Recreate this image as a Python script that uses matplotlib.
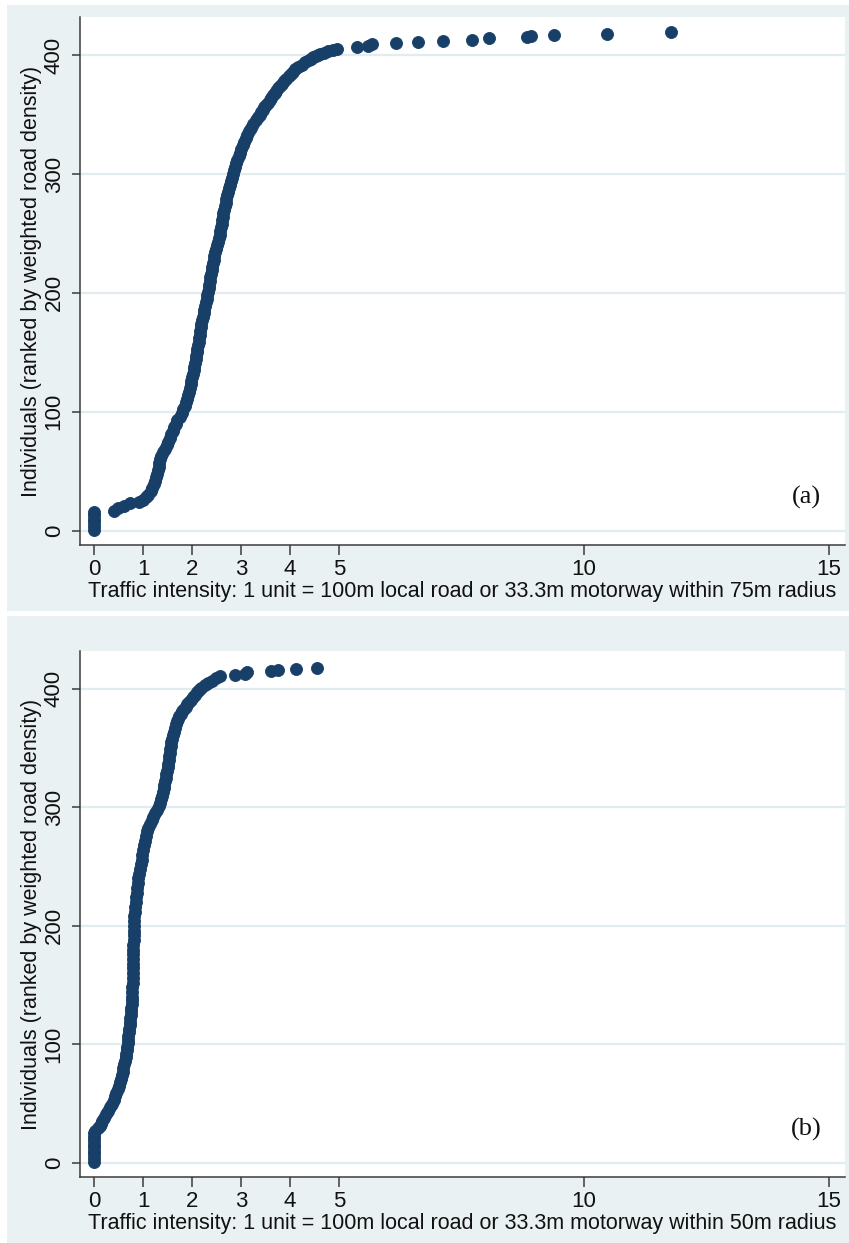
import matplotlib.pyplot as plt
from matplotlib.patches import Rectangle

# panel (a): 75m radius -- rank of individual vs traffic intensity
rank_a = [1, 4, 7, 10, 13, 16, 17, 19, 21, 23, 24, 26, 28, 30, 33, 36, 39, 42, 45, 48,
          51, 54, 57, 60, 63, 66, 69, 72, 75, 78, 81, 84, 87, 90, 93, 96, 99, 102, 105, 108,
          111, 114, 117, 120, 123, 126, 129, 132, 135, 138, 141, 144, 147, 150, 153, 156, 159, 162, 165, 168,
          171, 174, 177, 180, 183, 186, 189, 192, 195, 198, 201, 204, 207, 210, 213, 216, 219, 222, 225, 228,
          231, 234, 237, 240, 243, 246, 249, 252, 255, 258, 261, 264, 267, 270, 273, 276, 279, 282, 285, 288,
          291, 294, 297, 300, 303, 306, 309, 312, 315, 318, 321, 324, 327, 330, 333, 336, 339, 342, 345, 348,
          350, 352, 354, 356, 358, 360, 362, 364, 366, 368, 370, 372, 374, 376, 378, 380, 382, 384, 386, 388,
          390, 392, 394, 396, 397, 398, 399, 400, 401, 402, 403, 404, 405,
          407, 408, 409, 410, 411, 412, 413, 414, 415, 416, 417, 418, 419]
traffic_a = [0, 0, 0, 0, 0, 0, 0.40, 0.48, 0.60, 0.74, 0.92, 1.00, 1.06, 1.10, 1.15, 1.19, 1.22, 1.25, 1.27, 1.29,
             1.30, 1.32, 1.33, 1.35, 1.37, 1.40, 1.44, 1.48, 1.51, 1.55, 1.57, 1.60, 1.63, 1.66, 1.70, 1.75, 1.79, 1.82, 1.85, 1.88,
             1.90, 1.92, 1.94, 1.96, 1.97, 1.98, 2.00, 2.01, 2.03, 2.04, 2.06, 2.07, 2.08, 2.09, 2.10, 2.12, 2.13, 2.14, 2.15, 2.17,
             2.18, 2.19, 2.21, 2.22, 2.24, 2.25, 2.27, 2.28, 2.30, 2.31, 2.33, 2.34, 2.35, 2.36, 2.37, 2.38, 2.40, 2.41, 2.42, 2.44,
             2.45, 2.47, 2.49, 2.50, 2.52, 2.54, 2.56, 2.57, 2.58, 2.60, 2.61, 2.63, 2.64, 2.66, 2.67, 2.69, 2.70, 2.72, 2.74, 2.76,
             2.78, 2.80, 2.82, 2.84, 2.86, 2.88, 2.90, 2.92, 2.95, 2.97, 3.00, 3.03, 3.06, 3.09, 3.13, 3.17, 3.21, 3.25, 3.30, 3.35,
             3.38, 3.41, 3.44, 3.47, 3.51, 3.55, 3.59, 3.62, 3.66, 3.69, 3.72, 3.76, 3.80, 3.84, 3.88, 3.92, 3.97, 4.01, 4.06, 4.11,
             4.17, 4.24, 4.31, 4.38, 4.42, 4.47, 4.52, 4.57, 4.61, 4.69, 4.78, 4.87, 4.96,
             5.37, 5.59, 5.67, 6.16, 6.61, 7.12, 7.71, 8.06, 8.84, 8.92, 9.39, 10.47, 11.78]

# panel (b): 50m radius
rank_b = [1, 4, 7, 10, 13, 16, 19, 22, 25, 27, 29, 31, 33, 35, 38, 41, 44, 47, 50, 53,
          56, 59, 62, 65, 68, 71, 74, 77, 80, 83, 86, 89, 92, 95, 98, 101, 104, 107, 110, 113,
          116, 119, 122, 125, 128, 131, 134, 137, 140, 144, 148, 152, 156, 160, 164, 168, 172, 176, 180, 184,
          188, 192, 196, 200, 204, 208, 212, 216, 220, 224, 228, 232, 236, 240, 244, 248, 252, 256, 260, 264,
          268, 272, 276, 280, 283, 286, 289, 292, 295, 298, 301, 304, 307, 310, 313, 316, 319, 322, 325, 328,
          331, 334, 337, 340, 343, 346, 349, 352, 355, 358, 361, 364, 367, 370, 373, 375, 377, 379, 381, 383,
          385, 387, 389, 391, 393, 395, 397, 399, 401, 403, 405, 407, 409, 411,
          412, 413, 414, 415, 416, 417, 418]
traffic_b = [0, 0, 0, 0, 0, 0, 0, 0, 0, 0.02, 0.08, 0.12, 0.14, 0.16, 0.19, 0.24, 0.28, 0.32, 0.36, 0.40,
             0.43, 0.45, 0.48, 0.50, 0.52, 0.54, 0.56, 0.58, 0.59, 0.61, 0.63, 0.64, 0.65, 0.66, 0.67, 0.68, 0.69, 0.70, 0.71, 0.72,
             0.73, 0.73, 0.74, 0.75, 0.75, 0.76, 0.77, 0.77, 0.78, 0.78, 0.78, 0.79, 0.79, 0.79, 0.79, 0.80, 0.80, 0.80, 0.80, 0.80,
             0.81, 0.81, 0.81, 0.81, 0.82, 0.82, 0.83, 0.84, 0.85, 0.86, 0.87, 0.88, 0.89, 0.90, 0.92, 0.93, 0.95, 0.97, 0.98, 1.00,
             1.02, 1.04, 1.06, 1.08, 1.10, 1.13, 1.17, 1.20, 1.24, 1.28, 1.32, 1.35, 1.37, 1.39, 1.41, 1.42, 1.43, 1.45, 1.46, 1.47,
             1.48, 1.50, 1.51, 1.52, 1.53, 1.54, 1.55, 1.56, 1.57, 1.58, 1.60, 1.62, 1.64, 1.66, 1.69, 1.72, 1.74, 1.77, 1.80, 1.83,
             1.87, 1.90, 1.94, 1.98, 2.02, 2.06, 2.10, 2.14, 2.19, 2.26, 2.33, 2.41, 2.49, 2.57,
             2.88, 3.08, 3.12, 3.61, 3.75, 4.12, 4.55]

x_ticks = [0, 1, 2, 3, 4, 5, 10, 15]
y_ticks = [0, 100, 200, 300, 400]
ylab = "Individuals (ranked by weighted road density)"
xlab_a = "Traffic intensity: 1 unit = 100m local road or 33.3m motorway within 75m radius"
xlab_b = "Traffic intensity: 1 unit = 100m local road or 33.3m motorway within 50m radius"

plt.rcParams['font.family'] = ['Liberation Sans', 'DejaVu Sans']
W, H = 849, 1243
fig = plt.figure(figsize=(W / 100, H / 100), dpi=100, facecolor='white')

bg = '#eaf1f3'
navy = '#173f68'
grid_c = '#e2ebee'

# panel backgrounds (pixel boxes -> figure fraction), kept behind the axes
for y0, y1 in [(5, 611), (616, 1243)]:
    fig.patches.append(Rectangle((7 / W, 1 - y1 / H), (W - 7) / W, (y1 - y0) / H,
                                 transform=fig.transFigure, facecolor=bg, edgecolor='none', zorder=-5))

def panel(box, ranks, vals, xlab, tag):
    left, top, right, bottom = box
    ax = fig.add_axes([left / W, 1 - bottom / H, (right - left) / W, (bottom - top) / H])
    ax.set_zorder(1)
    ax.set_facecolor('white')
    ax.scatter(vals, ranks, s=75, color=navy, edgecolors=navy, linewidths=0.6, zorder=3)
    ax.set_xlim(-0.29, 15.33)
    ax.set_ylim(-12, 432)
    ax.set_xticks(x_ticks)
    ax.set_yticks(y_ticks)
    ax.yaxis.grid(True, color=grid_c, linewidth=1.6)
    ax.set_axisbelow(True)
    for s in ['top', 'right']:
        ax.spines[s].set_visible(False)
    for s in ['left', 'bottom']:
        ax.spines[s].set_color('#3a3a3a')
        ax.spines[s].set_linewidth(1.1)
    ax.tick_params(axis='both', colors='#3a3a3a', labelcolor='#111111', labelsize=16,
                   width=1.1)
    ax.tick_params(axis='x', pad=3, length=7)
    ax.tick_params(axis='y', pad=5, length=6)
    for lb in ax.get_yticklabels():
        lb.set_rotation(90)
        lb.set_va('center')
    ax.set_xlabel(xlab, fontsize=15.5, labelpad=1, color='#111111')
    ax.set_ylabel(ylab, fontsize=15.5, labelpad=1.5, color='#111111')
    ax.text(0.95, 0.09, tag, transform=ax.transAxes, fontsize=19,
            family='Liberation Serif', ha='center', va='center', color='#111111')
    return ax

panel((80, 17, 845, 545), rank_a, traffic_a, xlab_a, '(a)')
panel((80, 651, 845, 1177), rank_b, traffic_b, xlab_b, '(b)')

fig.savefig('out.png', dpi=100, facecolor='white')
